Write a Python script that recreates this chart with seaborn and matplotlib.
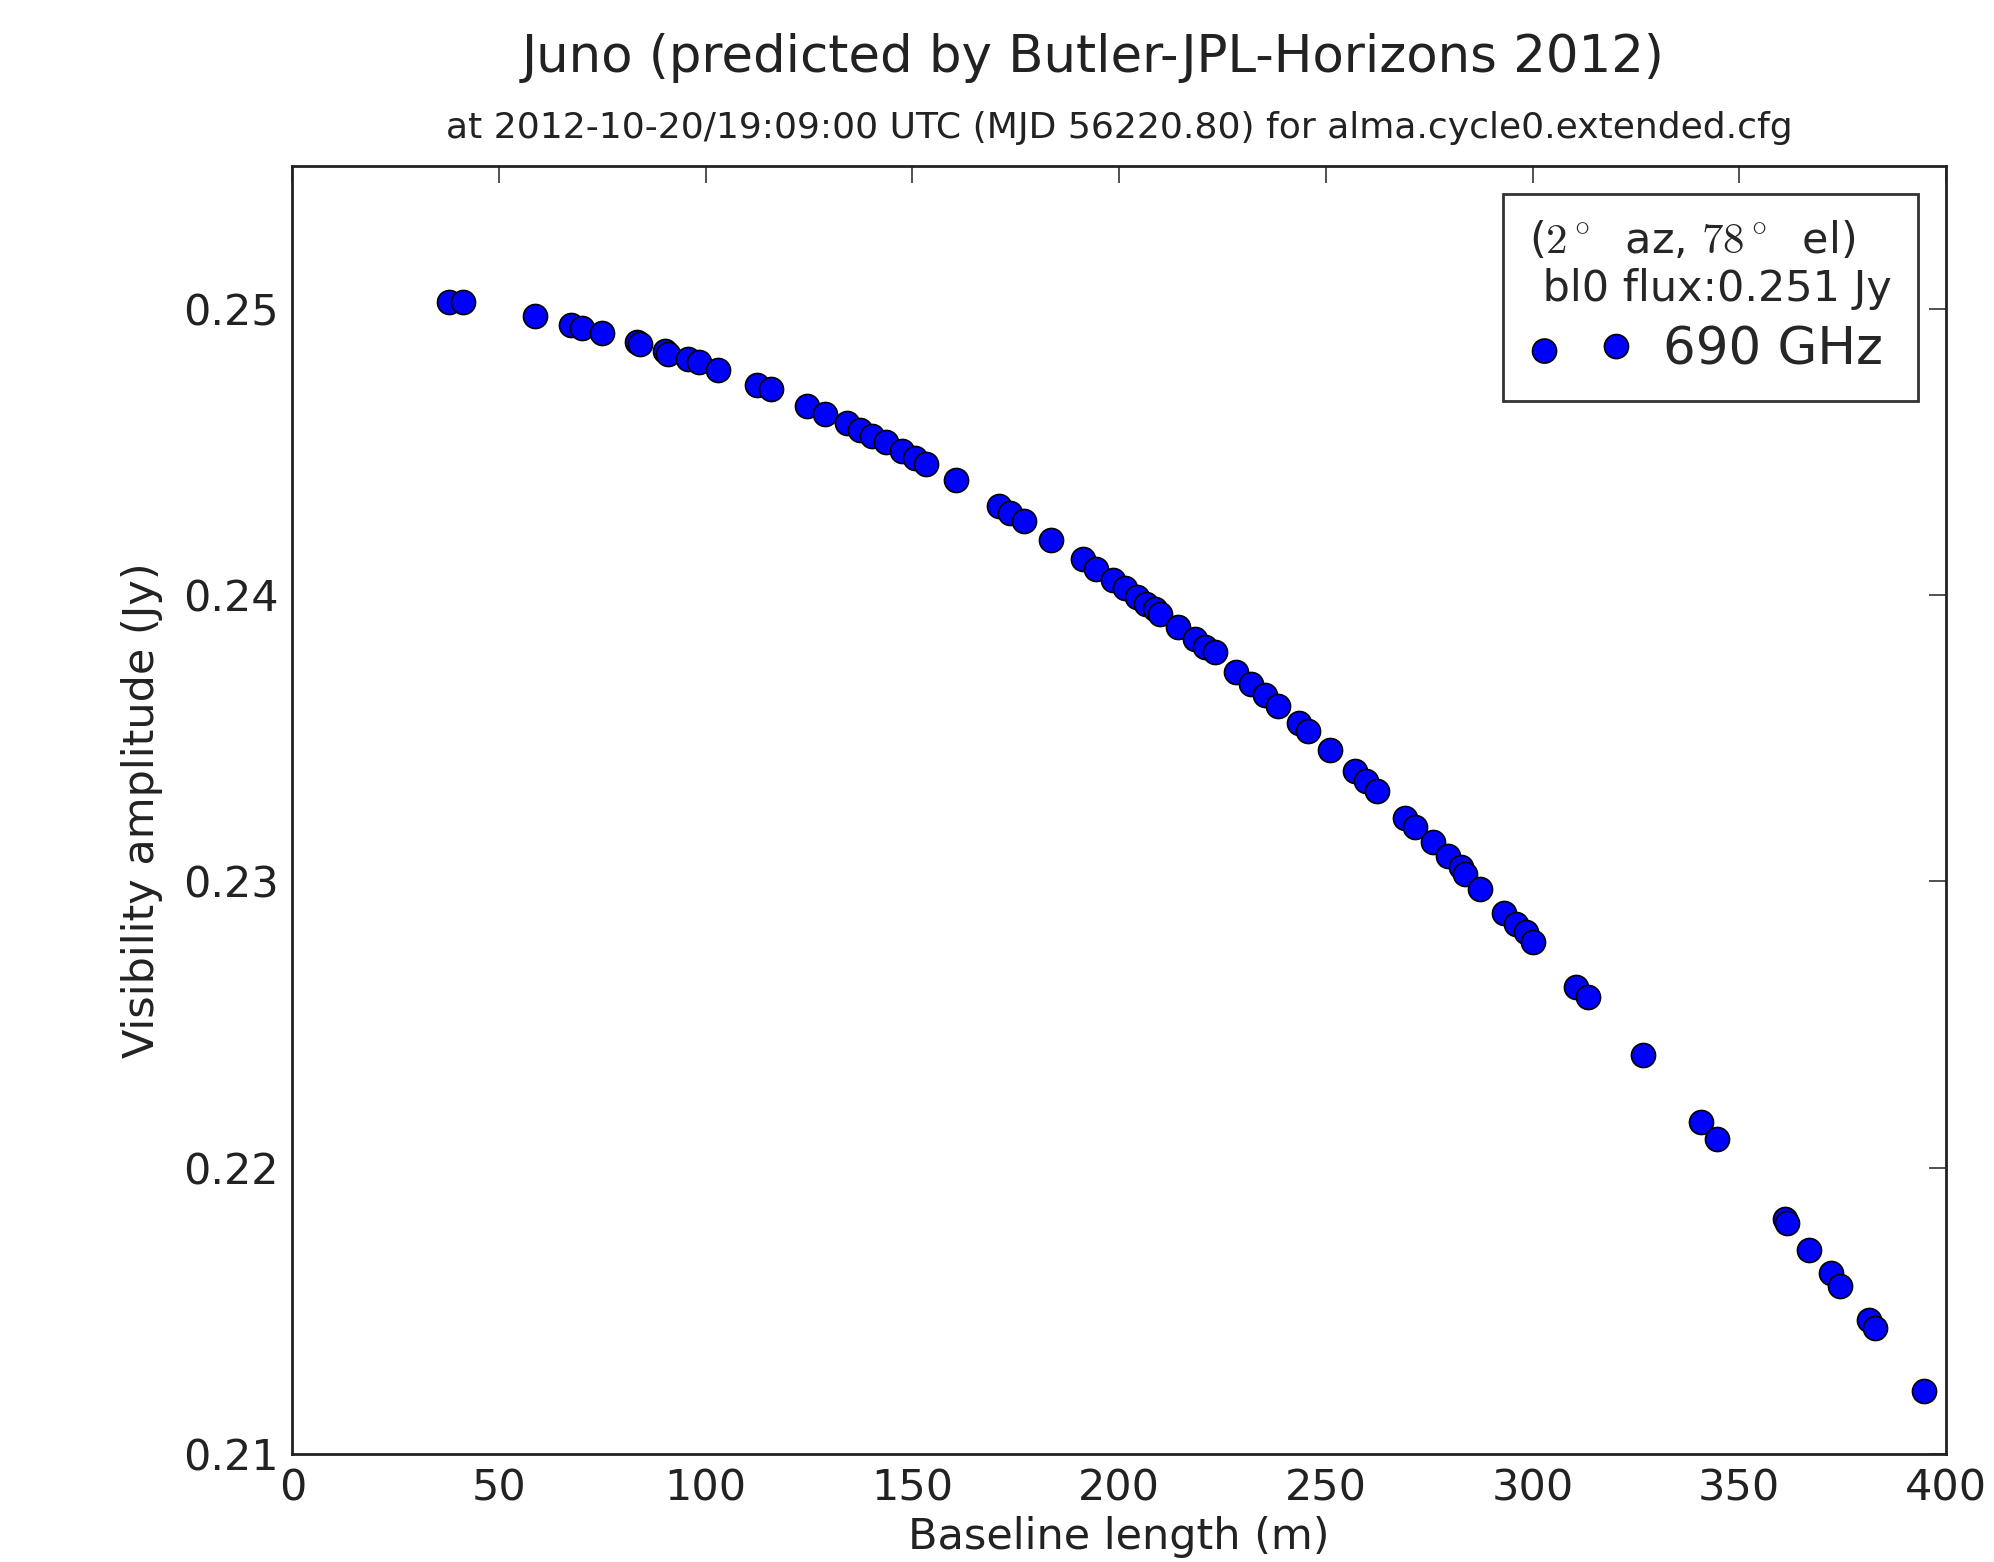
import numpy as np
import pandas as pd
import seaborn as sns
import matplotlib.pyplot as plt

# ----------------------------------------------------
# data
# ----------------------------------------------------
baseline_m = [
    37.9, 41.3, 58.7, 67.3, 70.0, 74.9, 83.4, 84.1, 90.1, 90.9,
    95.8, 98.4, 103.0, 112.4, 115.9, 124.5, 128.8, 134.1, 137.3, 140.1,
    143.7, 147.4, 150.6, 153.4, 160.5, 171.0, 173.6, 176.9, 183.6, 191.3,
    194.5, 198.5, 201.4, 204.4, 206.6, 208.6, 209.8, 214.3, 218.3, 220.7,
    223.1, 228.2, 232.0, 235.2, 238.4, 243.5, 245.7, 250.9, 257.0, 259.8,
    262.4, 269.1, 271.5, 275.9, 279.5, 282.8, 283.6, 287.4, 293.1, 296.1,
    298.5, 300.1, 310.6, 313.5, 326.8, 340.7, 344.5, 361.0, 361.6, 366.8,
    372.2, 374.4, 381.4, 382.8, 394.7,
]
amplitude_jy = [
    0.25025, 0.25025, 0.24975, 0.24943, 0.24932, 0.24917, 0.24885, 0.24878, 0.24853, 0.24843,
    0.24824, 0.24815, 0.24786, 0.24734, 0.24719, 0.24661, 0.24632, 0.24602, 0.24576, 0.24556,
    0.24533, 0.24504, 0.24478, 0.24457, 0.24401, 0.24312, 0.24288, 0.24259, 0.24192, 0.24125,
    0.24090, 0.24052, 0.24024, 0.23995, 0.23970, 0.23951, 0.23933, 0.23887, 0.23846, 0.23817,
    0.23800, 0.23733, 0.23689, 0.23652, 0.23611, 0.23552, 0.23524, 0.23459, 0.23384, 0.23349,
    0.23314, 0.23223, 0.23190, 0.23136, 0.23090, 0.23049, 0.23026, 0.22974, 0.22888, 0.22851,
    0.22822, 0.22787, 0.22630, 0.22595, 0.22392, 0.22159, 0.22101, 0.21821, 0.21806, 0.21714,
    0.21632, 0.21586, 0.21469, 0.21440, 0.21220,
]
x_ticks = [0, 50, 100, 150, 200, 250, 300, 350, 400]
y_ticks = [0.21, 0.22, 0.23, 0.24, 0.25]

title = "Juno (predicted by Butler-JPL-Horizons 2012)"
subtitle = "at 2012-10-20/19:09:00 UTC (MJD 56220.80) for alma.cycle0.extended.cfg"
legend_title = "($2^\\circ$  az, $78^\\circ$  el)\n bl0 flux:0.251 Jy"
series_label = "690 GHz"

df = pd.DataFrame({"baseline": baseline_m, "amp": amplitude_jy})

# ----------------------------------------------------
# plot
# ----------------------------------------------------
sns.set_style("white")
plt.rcParams["font.family"] = ["DejaVu Sans"]
plt.rcParams["mathtext.fontset"] = "cm"

fig = plt.figure(figsize=(19.94, 15.62), dpi=100)
ax = fig.add_axes([0.1466, 0.0691, 0.8293, 0.8249])

sns.scatterplot(data=df, x="baseline", y="amp", ax=ax, color="#0000ff",
                edgecolor="black", linewidth=1.2, s=300, label=series_label,
                legend=False, zorder=3)

ax.set_xlim(0, 400)
ax.set_ylim(0.21, 0.255)
ax.set_xticks(x_ticks)
ax.set_yticks(y_ticks)
ax.set_yticklabels([f"{t:g}" for t in y_ticks])
ax.tick_params(direction="in", length=12, width=1.2, labelsize=31,
               top=True, right=True, pad=10, colors="#333333", labelcolor="#222222")
for sp in ax.spines.values():
    sp.set_linewidth(2)
    sp.set_color("#222222")

ax.set_xlabel("Baseline length (m)", fontsize=31, labelpad=4, color="#222222")
ax.set_ylabel("Visibility amplitude (Jy)", fontsize=31, labelpad=14, color="#222222")
ax.set_title(subtitle, fontsize=26, pad=20, color="#222222")
fig.text(0.548, 0.963, title, fontsize=37, ha="center", va="center", color="#222222")

leg = ax.legend(title=legend_title, loc="upper right", scatterpoints=2,
                fontsize=37, title_fontsize=31, fancybox=False, frameon=True,
                edgecolor="black", borderaxespad=0.55, alignment="left",
                handletextpad=0.6, borderpad=0.5, labelspacing=0.3)
leg.get_frame().set_linewidth(2)

fig.savefig("out.png", dpi=100, facecolor="white")
